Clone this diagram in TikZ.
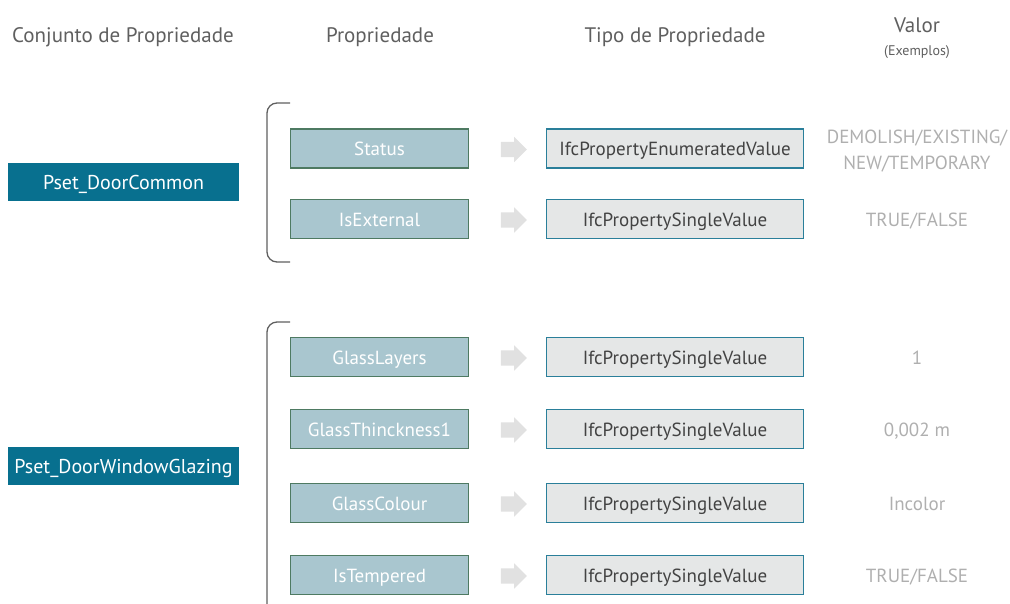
\documentclass[tikz,border=0pt]{standalone}
\usepackage{fontspec}
\setmainfont{PT Sans}
\usetikzlibrary{shapes.arrows, positioning}
\usepackage{xcolor}
\definecolor{mteal}{RGB}{8,112,143}
\definecolor{mprop}{RGB}{169,198,207}
\definecolor{mgreen}{RGB}{78,122,98}
\definecolor{mtype}{RGB}{229,231,231}
\definecolor{mtypeb}{RGB}{42,127,154}
\definecolor{mhead}{RGB}{95,95,95}
\definecolor{mval}{RGB}{175,175,175}
\definecolor{marr}{RGB}{225,225,225}

\begin{document}
\begin{tikzpicture}[x=1pt,y=-1pt,
  head/.style={text=mhead,font=\fontsize{21}{24}\selectfont},
  pset/.style={fill=mteal,text=white,font=\fontsize{20}{23}\selectfont,
               text height=14.5pt,text depth=0pt,
               minimum width=231pt,minimum height=38pt,inner sep=0pt},
  prop/.style={draw=mgreen,line width=1.5pt,fill=mprop,text=white,
               font=\fontsize{19}{22}\selectfont,
               text height=14pt,text depth=0pt,
               minimum width=178pt,minimum height=39pt,inner sep=0pt},
  tipo/.style={draw=mtypeb,line width=1.5pt,fill=mtype,text=mhead!70!black,
               font=\fontsize{19}{22}\selectfont,
               text height=14pt,text depth=0pt,
               minimum width=257pt,minimum height=39pt,inner sep=0pt},
  val/.style={text=mval,font=\fontsize{19}{26}\selectfont,align=center},
  val1/.style={val,text height=14pt,text depth=0pt,inner sep=0pt},
  blk/.style={single arrow,fill=marr,draw=none,minimum height=26pt,
              minimum width=25pt,single arrow head extend=5pt,
              inner xsep=0pt,inner ysep=7.5pt},
  chave/.style={draw=mhead,line width=1.3pt,rounded corners=10pt}
]
\useasboundingbox (0,0) rectangle (1010,603);

% cabecalho
\node[head] (h1) at (123,37) {Conjunto de Propriedade};
\node[head] (h2) at (380,37) {Propriedade};
\node[head] (h3) at (675,37) {Tipo de Propriedade};
\node[head] (h4) at (917,25) {Valor};
\node[text=mhead,font=\fontsize{14}{16}\selectfont] (h5) at (917,52) {(Exemplos)};

% conjuntos
\node[pset] (ps1) at (123.5,182) {Pset\_DoorCommon};
\node[pset] (ps2) at (123.5,466) {Pset\_DoorWindowGlazing};

% chaves
\draw[chave] (290,103) -- (267,103) -- (267,262) -- (290,262);
\draw[chave] (290,322) -- (267,322) -- (267,620);

% propriedades
\node[prop] (p1) at (379.5,148.5) {Status};
\node[prop] (p2) at (379.5,219)   {IsExternal};
\node[prop] (p3) at (379.5,357)   {GlassLayers};
\node[prop] (p4) at (379.5,429)   {GlassThinckness1};
\node[prop] (p5) at (379.5,503)   {GlassColour};
\node[prop] (p6) at (379.5,575)   {IsTempered};

% setas
\foreach \i/\y in {1/149.5,2/220,3/358,4/430,5/504,6/576}
  \node[blk] (s\i) at (510,\y) {};

% tipos
\node[tipo] (t1) at (675,148.5) {IfcPropertyEnumeratedValue};
\node[tipo] (t2) at (675,219)   {IfcPropertySingleValue};
\node[tipo] (t3) at (675,357)   {IfcPropertySingleValue};
\node[tipo] (t4) at (675,429)   {IfcPropertySingleValue};
\node[tipo] (t5) at (675,503)   {IfcPropertySingleValue};
\node[tipo] (t6) at (675,575)   {IfcPropertySingleValue};

% valores
\node[val] (v1) at (917,151) {DEMOLISH/EXISTING/\\NEW/TEMPORARY};
\node[val1] (v2) at (917,219) {TRUE/FALSE};
\node[val1] (v3) at (917,357) {1};
\node[val1] (v4) at (917,429) {0,002 m};
\node[val1] (v5) at (917,503) {Incolor};
\node[val1] (v6) at (917,575) {TRUE/FALSE};
\end{tikzpicture}
\end{document}
